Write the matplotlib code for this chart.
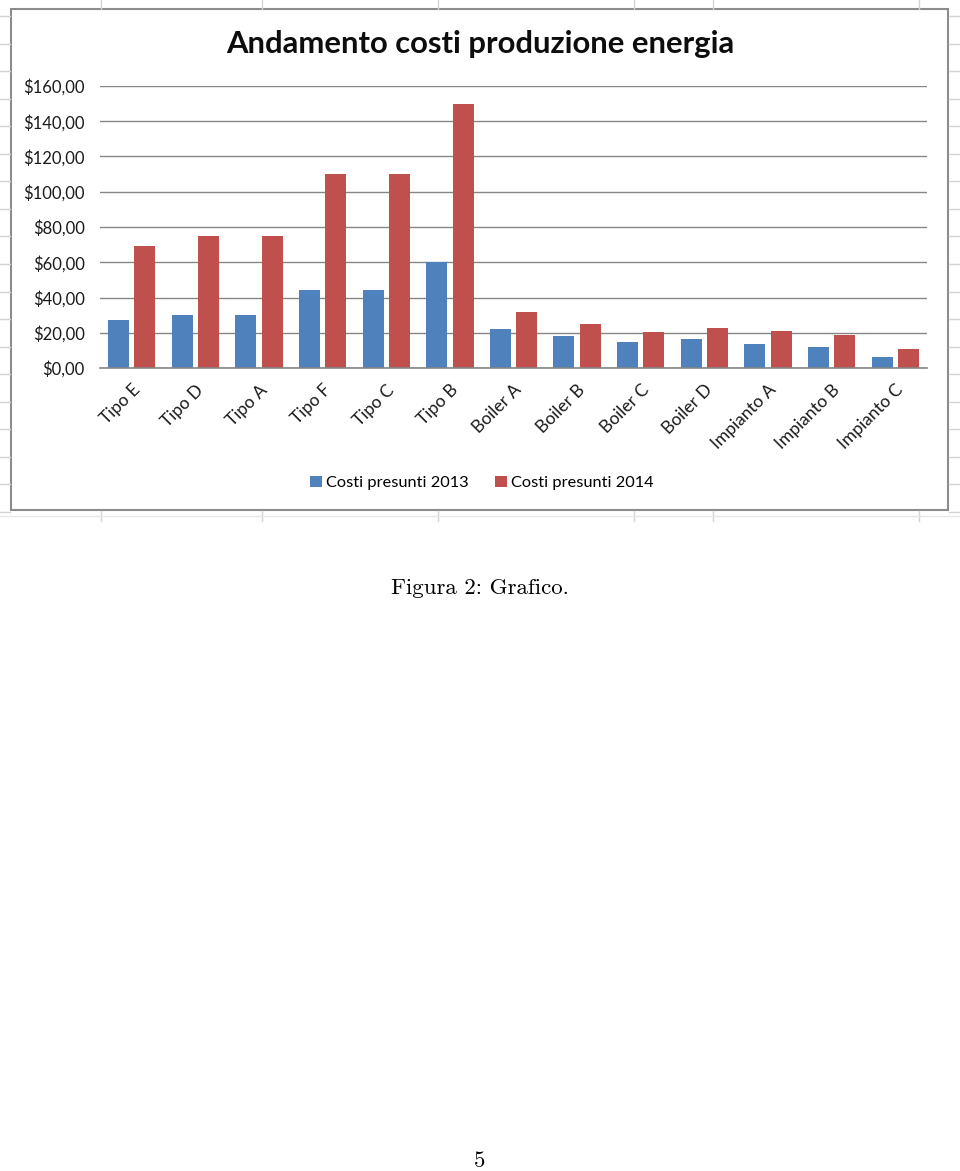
import matplotlib
matplotlib.use("Agg")
import matplotlib.pyplot as plt
from matplotlib.patches import Rectangle, Patch
from matplotlib.lines import Line2D
import numpy as np

categories = ["Tipo E", "Tipo D", "Tipo A", "Tipo F", "Tipo C", "Tipo B",
              "Boiler A", "Boiler B", "Boiler C", "Boiler D",
              "Impianto A", "Impianto B", "Impianto C"]
costi_2013 = [27.5, 30, 30, 44, 44, 60, 22, 18, 15, 16.5, 13.5, 12, 6.5]
costi_2014 = [69.5, 75, 75, 110, 110, 150, 31.5, 25, 20.5, 22.5, 21, 19, 10.5]
yticks = [0, 20, 40, 60, 80, 100, 120, 140, 160]
series_names = ["Costi presunti 2013", "Costi presunti 2014"]
title = "Andamento costi produzione energia"

W, H = 960, 1171
BLUE = "#4F81BD"
RED = "#C0504D"
GRID = "#868686"
CHART_FONT = "Lato"

fig = plt.figure(figsize=(W / 100, H / 100), dpi=100)
fig.patch.set_facecolor("white")

def fx(px):
    return px / W

def fy(py):
    return 1 - py / H

# spreadsheet cell lines in margins (background decoration)
cell_col = "#d4d4d4"
for x in [101, 262, 438, 634, 713, 919]:
    fig.add_artist(Line2D([fx(x), fx(x)], [fy(0), fy(9)], color=cell_col, lw=1))
    fig.add_artist(Line2D([fx(x), fx(x)], [fy(511), fy(521)], color=cell_col, lw=1))
for k in range(19):
    y = 16 + 27.55 * k
    if y > 515:
        break
    fig.add_artist(Line2D([fx(0), fx(10)], [fy(y), fy(y)], color=cell_col, lw=1))
    fig.add_artist(Line2D([fx(949), fx(960)], [fy(y), fy(y)], color=cell_col, lw=1))
fig.add_artist(Line2D([fx(0), fx(960)], [fy(516), fy(516)], color="#e6e6e6", lw=1))

# chart border
fig.add_artist(Rectangle((fx(11), fy(510)), fx(948) - fx(11), fy(9) - fy(510),
                         transform=fig.transFigure, facecolor="none",
                         edgecolor="#8c8c8c", lw=1.5))

# plot area
ax = fig.add_axes([fx(100), fy(368), fx(927) - fx(100), fy(86) - fy(368)])
x = np.arange(len(categories))
bw = 0.33
off = 0.207
ax.bar(x - off, costi_2013, width=bw, color=BLUE, zorder=3)
ax.bar(x + off, costi_2014, width=bw, color=RED, zorder=3)
ax.set_xlim(-0.5, len(categories) - 0.5)
ax.set_ylim(0, 160)
ax.set_yticks(yticks)
ax.set_yticklabels([f"${v},00" for v in yticks], fontfamily=CHART_FONT,
                   fontsize=12, color="#1a1a1a")
ax.tick_params(axis="y", length=0, pad=11)
ax.grid(axis="y", color=GRID, lw=1, zorder=0)
ax.set_xticks(x)
ax.set_xticklabels(categories, rotation=45, ha="right", va="top",
                   rotation_mode="anchor", fontfamily=CHART_FONT,
                   fontsize=12.5, color="#1a1a1a")
ax.tick_params(axis="x", length=0, pad=10)
for s in ["top", "right", "left"]:
    ax.spines[s].set_visible(False)
ax.spines["bottom"].set_color(GRID)
ax.spines["bottom"].set_linewidth(1.2)
ax.spines["bottom"].set_zorder(4)
ax.set_facecolor("white")

fig.text(0.5, fy(44), title, ha="center", va="center",
         fontfamily=CHART_FONT, fontweight="bold", fontsize=22.3, color="#0d0d0d")

handles = [Patch(facecolor=BLUE, edgecolor="none"), Patch(facecolor=RED, edgecolor="none")]
leg = fig.legend(handles, series_names, loc="center",
                 bbox_to_anchor=(fx(482), fy(483)), ncol=2, frameon=False,
                 prop={"family": CHART_FONT, "size": 11.8},
                 handlelength=0.72, handleheight=0.72, handletextpad=0.25,
                 columnspacing=1.6)

fig.text(0.5, fy(588), "Figura 2: Grafico.", ha="center", va="center",
         fontfamily="cmr10", fontsize=16.5, color="black")
fig.text(0.5, fy(1161), "5", ha="center", va="center",
         fontfamily="cmr10", fontsize=16.5, color="black")

fig.savefig("out.png", dpi=100, facecolor="white")
